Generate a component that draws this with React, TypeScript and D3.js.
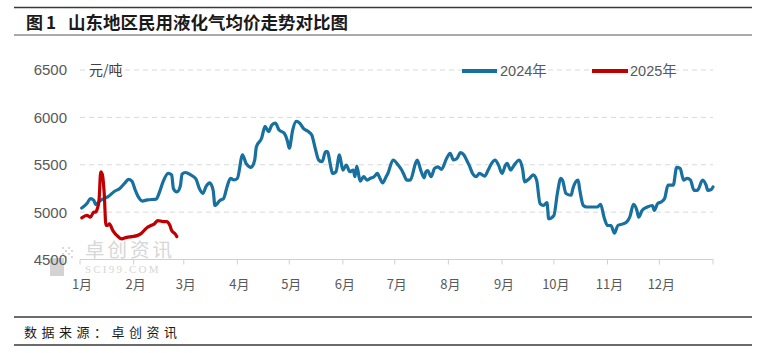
import React from 'react';
import * as d3 from 'd3';

// day offset from Jan 1 and price (元/吨)
const days2024 = [1, 4, 6, 8, 9, 12, 16, 20, 23, 26, 28, 30, 32, 34, 36, 39, 44, 46, 48, 51, 53, 54, 56, 58, 59, 61, 64, 67, 69, 71, 73, 75, 77, 78, 81, 83, 85, 87, 89, 91, 94, 96, 99, 101, 102, 105, 107, 109, 111, 113, 115, 118, 120, 121, 123, 125, 127, 129, 132, 134, 136, 138, 140, 142, 143, 145, 146, 148, 150, 152, 154, 156, 158, 159, 160, 162, 164, 166, 168, 170, 172, 173, 175, 177, 178, 181, 184, 186, 187, 189, 191, 194, 195, 197, 199, 200, 201, 203, 205, 207, 209, 212, 214, 216, 218, 220, 222, 224, 225, 227, 229, 231, 234, 236, 238, 240, 242, 244, 246, 247, 249, 251, 254, 256, 257, 260, 262, 264, 266, 268, 270, 271, 274, 276, 278, 279, 281, 284, 285, 288, 289, 291, 293, 297, 299, 301, 303, 305, 307, 309, 311, 314, 316, 318, 320, 322, 323, 325, 328, 331, 332, 334, 336, 338, 340, 343, 345, 347, 349, 351, 353, 355, 357, 360, 362, 363, 365, 366];
const price2024 = [5043, 5090, 5143, 5125, 5080, 5125, 5160, 5220, 5250, 5308, 5345, 5327, 5230, 5152, 5117, 5130, 5137, 5213, 5320, 5410, 5393, 5250, 5213, 5274, 5400, 5418, 5393, 5350, 5250, 5197, 5274, 5308, 5230, 5070, 5125, 5143, 5266, 5357, 5340, 5357, 5605, 5515, 5473, 5550, 5690, 5779, 5904, 5850, 5922, 5940, 5869, 5834, 5745, 5674, 5869, 5958, 5940, 5887, 5850, 5815, 5674, 5550, 5532, 5638, 5638, 5478, 5408, 5426, 5605, 5444, 5496, 5426, 5444, 5374, 5487, 5327, 5374, 5338, 5357, 5374, 5408, 5374, 5308, 5374, 5408, 5550, 5496, 5444, 5408, 5338, 5338, 5515, 5550, 5444, 5362, 5426, 5437, 5374, 5462, 5478, 5451, 5568, 5621, 5550, 5568, 5627, 5603, 5532, 5496, 5408, 5374, 5408, 5380, 5444, 5515, 5550, 5496, 5408, 5496, 5515, 5444, 5496, 5550, 5444, 5320, 5357, 5393, 5338, 5090, 5070, 5100, 4930, 4965, 5197, 5357, 5338, 5197, 5178, 5250, 5338, 5230, 5070, 5054, 5054, 5054, 5082, 4947, 4859, 4859, 4777, 4859, 4876, 4894, 4954, 5082, 5018, 4947, 5018, 5054, 5070, 5018, 5090, 5107, 5143, 5284, 5284, 5473, 5462, 5338, 5357, 5338, 5230, 5230, 5338, 5284, 5230, 5238, 5266];

const days2025 = [1, 4, 6, 8, 9, 10, 11, 12, 13, 14, 15, 16, 17, 19, 22, 24, 27, 30, 33, 35, 37, 39, 41, 43, 45, 48, 50, 52, 53, 55, 56];
const price2025 = [4940, 4965, 4947, 5000, 5000, 5036, 5125, 5426, 5393, 5197, 4859, 4859, 4876, 4805, 4742, 4717, 4734, 4742, 4752, 4770, 4805, 4840, 4859, 4876, 4911, 4900, 4900, 4859, 4805, 4770, 4742];

const monthLabels = ['1月', '2月', '3月', '4月', '5月', '6月', '7月', '8月', '9月', '10月', '11月', '12月'];
const monthStartDays = [0, 31, 60, 91, 121, 152, 182, 213, 244, 274, 305, 335, 366];
const yTicks = [4500, 5000, 5500, 6000, 6500];
const seriesNames = ['2024年', '2025年'];
const colors = ['#17709e', '#c00000'];

const FONT = '"Liberation Sans", Arial, "Noto Sans CJK SC", sans-serif';

export default function App() {
  const x = d3.scaleLinear().domain([0, 366]).range([80, 713]);
  const y = d3.scaleLinear().domain([4500, 6500]).range([259.5, 70]);
  const line = d3
    .line<[number, number]>()
    .x((d) => x(d[0]))
    .y((d) => y(d[1]))
    .curve(d3.curveMonotoneX);
  const s2024: [number, number][] = days2024.map((d, i) => [d, price2024[i]]);
  const s2025: [number, number][] = days2025.map((d, i) => [d, price2025[i]]);

  const dots: [number, number][] = [];
  for (let i = 0; i < 4; i++) for (let j = 0; j < 4; j++) if ((i + j) % 2 === 0) dots.push([62 + i * 3, 247 + j * 3]);

  return (
    <svg
      width={765}
      height={353}
      style={{ position: 'absolute', left: 0, top: 0, background: '#fff' }}
      fontFamily={FONT}
    >
      <rect x={0} y={0} width={765} height={353} fill="#fff" />
      {/* Title */}
      <line x1={14} x2={752} y1={7.5} y2={7.5} stroke="#3a3a3a" strokeWidth={1.6} />
      <text x={26} y={29} fontSize={17} fontWeight={700} fill="#1a1a1a" fontFamily='"Noto Sans CJK SC", sans-serif'>
        图
      </text>
      <text x={46} y={29} fontSize={17} fontWeight={700} fill="#1a1a1a" fontFamily='"Noto Sans CJK SC", sans-serif'>
        1
      </text>
      <text x={68} y={29} fontSize={17.5} fontWeight={700} fill="#1a1a1a" fontFamily='"Noto Sans CJK SC", sans-serif'>
        山东地区民用液化气均价走势对比图
      </text>
      <line x1={14} x2={752} y1={35} y2={35} stroke="#555" strokeWidth={1} />

      {/* Watermark */}
      <g opacity={0.9}>
        <rect x={50} y={258} width={14} height={18} fill="#cfcfcf" />
        {dots.map((d, i) => (
          <rect key={i} x={d[0]} y={d[1]} width={2} height={2} fill="#d5d5d5" />
        ))}
        <text x={85} y={257} fontSize={19.5} fill="#d3d3d3" fontFamily='"Noto Sans CJK SC", sans-serif' letterSpacing={3}>
          卓创资讯
        </text>
        <text x={85} y={273} fontSize={11} fill="#d3d3d3" fontFamily='"Liberation Serif", serif' letterSpacing={2.2}>
          SCI99.COM
        </text>
      </g>

      {/* Grid */}
      {yTicks
        .filter((t) => t !== 4500)
        .map((t) => (
          <line key={t} x1={80} x2={713} y1={y(t)} y2={y(t)} stroke="#d9d9d9" strokeWidth={1} strokeDasharray="5,4" />
        ))}
      <line x1={80} x2={713} y1={y(4500)} y2={y(4500)} stroke="#d0d0d0" strokeWidth={1} />
      {monthStartDays.map((d) => (
        <line key={d} x1={x(d)} x2={x(d)} y1={y(4500)} y2={y(4500) + 5} stroke="#d0d0d0" strokeWidth={1} />
      ))}

      {/* Y labels */}
      {yTicks.map((t) => (
        <text key={t} x={67} y={y(t)} dy="0.36em" textAnchor="end" fontSize={15} fill="#595959">
          {t}
        </text>
      ))}
      <text x={89} y={75} fontSize={14} fill="#404040" fontFamily='"Noto Sans CJK SC", sans-serif'>
        元/吨
      </text>

      {/* X labels */}
      {monthLabels.map((m, i) => (
        <text key={m} x={x(monthStartDays[i]) + 2} y={288.5} textAnchor="middle" fontSize={13} fill="#595959" fontFamily='"Noto Sans CJK SC", sans-serif'>
          {m}
        </text>
      ))}

      {/* Lines */}
      <path d={line(s2024) || ''} fill="none" stroke={colors[0]} strokeWidth={3.2} strokeLinejoin="round" strokeLinecap="round" />
      <path d={line(s2025) || ''} fill="none" stroke={colors[1]} strokeWidth={3.2} strokeLinejoin="round" strokeLinecap="round" />

      {/* Legend */}
      <line x1={462} x2={497} y1={71} y2={71} stroke={colors[0]} strokeWidth={4} />
      <text x={500} y={71} dy="0.36em" fontSize={14.5} fill="#595959">
        {seriesNames[0]}
      </text>
      <line x1={592} x2={628} y1={71} y2={71} stroke={colors[1]} strokeWidth={4} />
      <text x={630} y={71} dy="0.36em" fontSize={14.5} fill="#595959">
        {seriesNames[1]}
      </text>

      {/* Footer */}
      <line x1={14} x2={752} y1={317} y2={317} stroke="#3a3a3a" strokeWidth={1.6} />
      <text x={24} y={337} fontSize={13} fill="#1a1a1a" letterSpacing={4.5} fontFamily='"Noto Sans CJK SC", sans-serif'>
        数据来源：卓创资讯
      </text>
      <line x1={14} x2={752} y1={345} y2={345} stroke="#3a3a3a" strokeWidth={1.6} />
    </svg>
  );
}
